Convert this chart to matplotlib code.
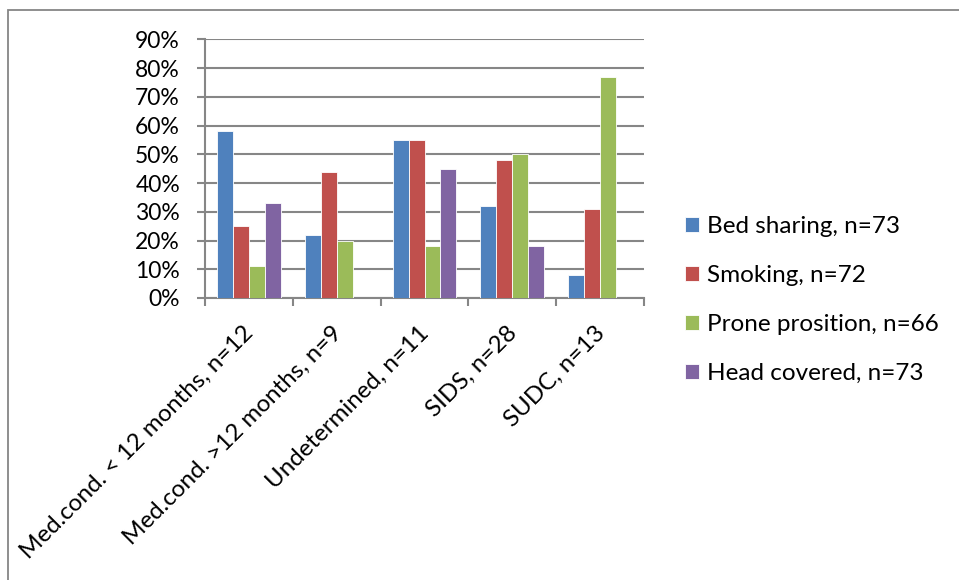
import matplotlib
matplotlib.use("Agg")
import matplotlib.pyplot as plt
import matplotlib.transforms as mtransforms
from matplotlib.patches import Rectangle
import numpy as np

plt.rcParams['font.family'] = ['Lato', 'DejaVu Sans']

categorias = ["Med.cond. < 12 months, n=12", "Med.cond. >12 months, n=9",
              "Undetermined, n=11", "SIDS, n=28", "SUDC, n=13"]
series = ["Bed sharing, n=73", "Smoking, n=72",
          "Prone prosition, n=66", "Head covered, n=73"]
bed_sharing = [0.58, 0.22, 0.55, 0.32, 0.08]
smoking = [0.25, 0.44, 0.55, 0.48, 0.31]
prone = [0.11, 0.20, 0.18, 0.50, 0.77]
head_covered = [0.33, 0.00, 0.45, 0.18, 0.00]
colores = ["#4F81BD", "#C0504D", "#9BBB59", "#8064A2"]
gris = "#868686"

W, H = 959, 580
fig = plt.figure(figsize=(W / 100, H / 100), dpi=100)
ax = fig.add_axes([205 / W, (H - 298) / H, (644 - 205) / W, (298 - 39.3) / H])

# marco del grafico (solo borde superior e izquierdo visibles)
fig.add_artist(Rectangle((8 / W, -0.1), 1.2, (H - 10) / H + 0.1,
                         transform=fig.transFigure, fill=False,
                         edgecolor=gris, linewidth=1.3))

x = np.arange(len(categorias)) + 0.5
w = 0.182
for k, (vals, nombre) in enumerate(zip([bed_sharing, smoking, prone, head_covered], series)):
    ax.bar(x + (k - 1.5) * w, vals, w, color=colores[k], label=nombre,
           edgecolor="white", linewidth=0.6, zorder=3)

ax.set_xlim(0, len(categorias))
ax.set_ylim(0, 0.9)
ax.set_yticks(np.arange(0, 0.91, 0.1))
ax.set_yticklabels([f"{int(round(v * 100))}%" for v in np.arange(0, 0.91, 0.1)])
ax.yaxis.grid(True, color=gris, linewidth=1.5, zorder=0)
ax.set_axisbelow(True)

ax.set_xticks(np.arange(len(categorias) + 1))
ax.set_xticklabels([])
ax.set_xticks(x, minor=True)
ax.set_xticklabels(categorias, minor=True, rotation=45,
                   rotation_mode="anchor", ha="right", va="top")
ax.tick_params(axis="x", which="minor", length=0, pad=0, labelsize=17.4)
ax.tick_params(axis="x", which="major", length=6, width=1.5, color=gris)
ax.tick_params(axis="y", length=6, width=1.5, color=gris, pad=12, labelsize=16.5)

for lbl in ax.get_xticklabels(minor=True):
    lbl.set_transform(lbl.get_transform() +
                      mtransforms.ScaledTranslation(-0.06, -0.24, fig.dpi_scale_trans))

for lado in ["top", "right"]:
    ax.spines[lado].set_visible(False)
for lado in ["left", "bottom"]:
    ax.spines[lado].set_color(gris)
    ax.spines[lado].set_linewidth(1.5)

fig.legend(loc="center left", bbox_to_anchor=(675 / W, 1 - 300 / H),
           frameon=False, fontsize=17.5, handlelength=0.6, handleheight=0.6,
           handletextpad=0.3, labelspacing=1.15, borderaxespad=0)

fig.savefig("out.png", dpi=100)
